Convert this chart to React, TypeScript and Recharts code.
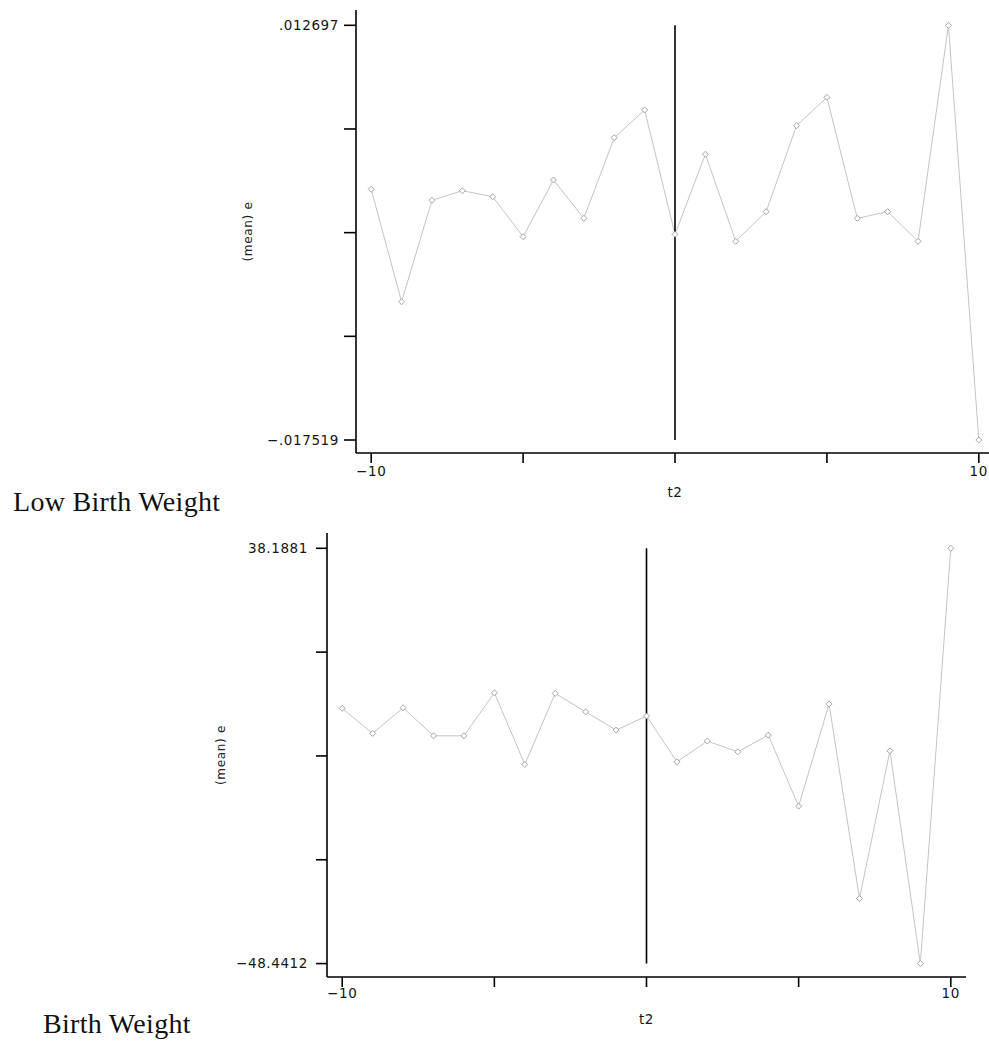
import React from 'react';
import { LineChart, Line, XAxis, YAxis, ReferenceLine, Label } from 'recharts';

// t2 categories (relative time)
const tValues = [-10, -9, -8, -7, -6, -5, -4, -3, -2, -1, 0, 1, 2, 3, 4, 5, 6, 7, 8, 9, 10];

// (mean) e — Low Birth Weight
const lbwMeans = [
  0.000748, -0.007442, -0.000054, 0.000646, 0.000209, -0.002706, 0.001425, -0.001365, 0.004507, 0.006526,
  -0.002531, 0.003298, -0.003041, -0.000884, 0.005382, 0.007451, -0.001365, -0.000884, -0.003041, 0.012697,
  -0.017519,
];

// (mean) e — Birth Weight
const bwMeans = [
  4.79, -0.43, 4.92, -0.93, -0.93, 8.05, -6.9, 7.92, 4.08, 0.26,
  3.18, -6.35, -2.03, -4.27, -0.78, -15.6, 5.69, -34.87, -4.06, -48.4412,
  38.1881,
];

const xTicks = [-10, -5, 0, 5, 10];
const xTickLabels = ['\u221210', '', '', '', '10'];

const lbwYTicks = [-0.017519, -0.009965, -0.002411, 0.005143, 0.012697];
const lbwYTickLabels = ['\u2212.017519', '', '', '', '.012697'];

const bwYTicks = [-48.4412, -26.7839, -5.1266, 16.5307, 38.1881];
const bwYTickLabels = ['\u221248.4412', '', '', '', '38.1881'];

const lbwData = tValues.map((t, i) => ({ t, e: lbwMeans[i] }));
const bwData = tValues.map((t, i) => ({ t, e: bwMeans[i] }));

const sansFont = '"DejaVu Sans", "Liberation Sans", Arial, sans-serif';

const tickFont = {
  fill: '#151515',
  fontSize: 13.5,
  fontFamily: sansFont,
  letterSpacing: 0.6,
};

const axisStroke = { stroke: '#000', strokeWidth: 1.6 };

const renderDot = (props: any) => {
  const { cx, cy, index } = props;
  if (cx == null || cy == null) return <g key={`d${index}`} />;
  const s = 3;
  return (
    <path
      key={`d${index}`}
      d={`M${cx},${cy - s} L${cx + s},${cy} L${cx},${cy + s} L${cx - s},${cy} Z`}
      fill="#fff"
      stroke="#9a9a9a"
      strokeWidth={0.9}
    />
  );
};

const serifLabel: React.CSSProperties = {
  position: 'absolute',
  fontFamily: '"Liberation Serif", "Times New Roman", serif',
  fontSize: 28,
  lineHeight: 1,
  color: '#111',
  whiteSpace: 'nowrap',
  letterSpacing: 0.3,
};

export default function App() {
  return (
    <div
      style={{
        position: 'absolute',
        left: 0,
        top: 0,
        width: 989,
        height: 1042,
        overflow: 'hidden',
        background: '#fff',
      }}
    >
      <div style={{ position: 'absolute', left: 0, top: 0 }}>
        <LineChart
          width={994}
          height={520}
          data={lbwData}
          margin={{ top: 10, right: 0, left: 236, bottom: 23 }}
        >
          <XAxis
            dataKey="t"
            type="number"
            domain={[-10.5, 10.5]}
            ticks={xTicks}
            interval={0}
            allowDataOverflow
            tickFormatter={(v: any, i: number) => xTickLabels[i]}
            tickSize={10}
            tickMargin={3}
            height={44}
            axisLine={axisStroke}
            tickLine={axisStroke}
            tick={tickFont}
          >
            <Label
              value="t2"
              position="insideBottom"
              offset={0}
              style={{ fontSize: 13.5, fontFamily: sansFont, fill: '#151515', letterSpacing: 0.6 }}
            />
          </XAxis>
          <YAxis
            type="number"
            domain={[-0.018466, 0.013812]}
            ticks={lbwYTicks}
            interval={0}
            allowDataOverflow
            tickFormatter={(v: any, i: number) => lbwYTickLabels[i]}
            width={120}
            tickSize={12}
            tickMargin={5}
            axisLine={axisStroke}
            tickLine={axisStroke}
            tick={tickFont}
          >
            <Label
              value="(mean) e"
              angle={-90}
              position="insideLeft"
              offset={12}
              style={{ textAnchor: 'middle', fontSize: 12, fontFamily: sansFont, fill: '#222', letterSpacing: 0.7 }}
            />
          </YAxis>
          <Line
            type="linear"
            dataKey="e"
            stroke="#c4c4c4"
            strokeWidth={1}
            dot={renderDot}
            activeDot={false}
            isAnimationActive={false}
          />
          <ReferenceLine
            segment={[{ x: 0, y: lbwYTicks[0] }, { x: 0, y: lbwYTicks[4] }]}
            stroke="#000"
            strokeWidth={1.6}
          />
        </LineChart>
      </div>
      <div style={{ ...serifLabel, left: 13, top: 488 }}>Low Birth Weight</div>

      <div style={{ position: 'absolute', left: 0, top: 520 }}>
        <LineChart
          width={989}
          height={522}
          data={bwData}
          margin={{ top: 13, right: 23, left: 207, bottom: 21 }}
        >
          <XAxis
            dataKey="t"
            type="number"
            domain={[-10.5, 10.5]}
            ticks={xTicks}
            interval={0}
            allowDataOverflow
            tickFormatter={(v: any, i: number) => xTickLabels[i]}
            tickSize={10}
            tickMargin={1}
            height={44}
            axisLine={axisStroke}
            tickLine={axisStroke}
            tick={tickFont}
          >
            <Label
              value="t2"
              position="insideBottom"
              offset={-3}
              style={{ fontSize: 13.5, fontFamily: sansFont, fill: '#151515', letterSpacing: 0.6 }}
            />
          </XAxis>
          <YAxis
            type="number"
            domain={[-51.24, 41.38]}
            ticks={bwYTicks}
            interval={0}
            allowDataOverflow
            tickFormatter={(v: any, i: number) => bwYTickLabels[i]}
            width={120}
            tickSize={11}
            tickMargin={8}
            axisLine={axisStroke}
            tickLine={axisStroke}
            tick={tickFont}
          >
            <Label
              value="(mean) e"
              angle={-90}
              position="insideLeft"
              offset={14}
              style={{ textAnchor: 'middle', fontSize: 12, fontFamily: sansFont, fill: '#222', letterSpacing: 0.7 }}
            />
          </YAxis>
          <Line
            type="linear"
            dataKey="e"
            stroke="#c4c4c4"
            strokeWidth={1}
            dot={renderDot}
            activeDot={false}
            isAnimationActive={false}
          />
          <ReferenceLine
            segment={[{ x: 0, y: bwYTicks[0] }, { x: 0, y: bwYTicks[4] }]}
            stroke="#000"
            strokeWidth={1.6}
          />
        </LineChart>
      </div>
      <div style={{ ...serifLabel, left: 43, top: 1010 }}>Birth Weight</div>
    </div>
  );
}
